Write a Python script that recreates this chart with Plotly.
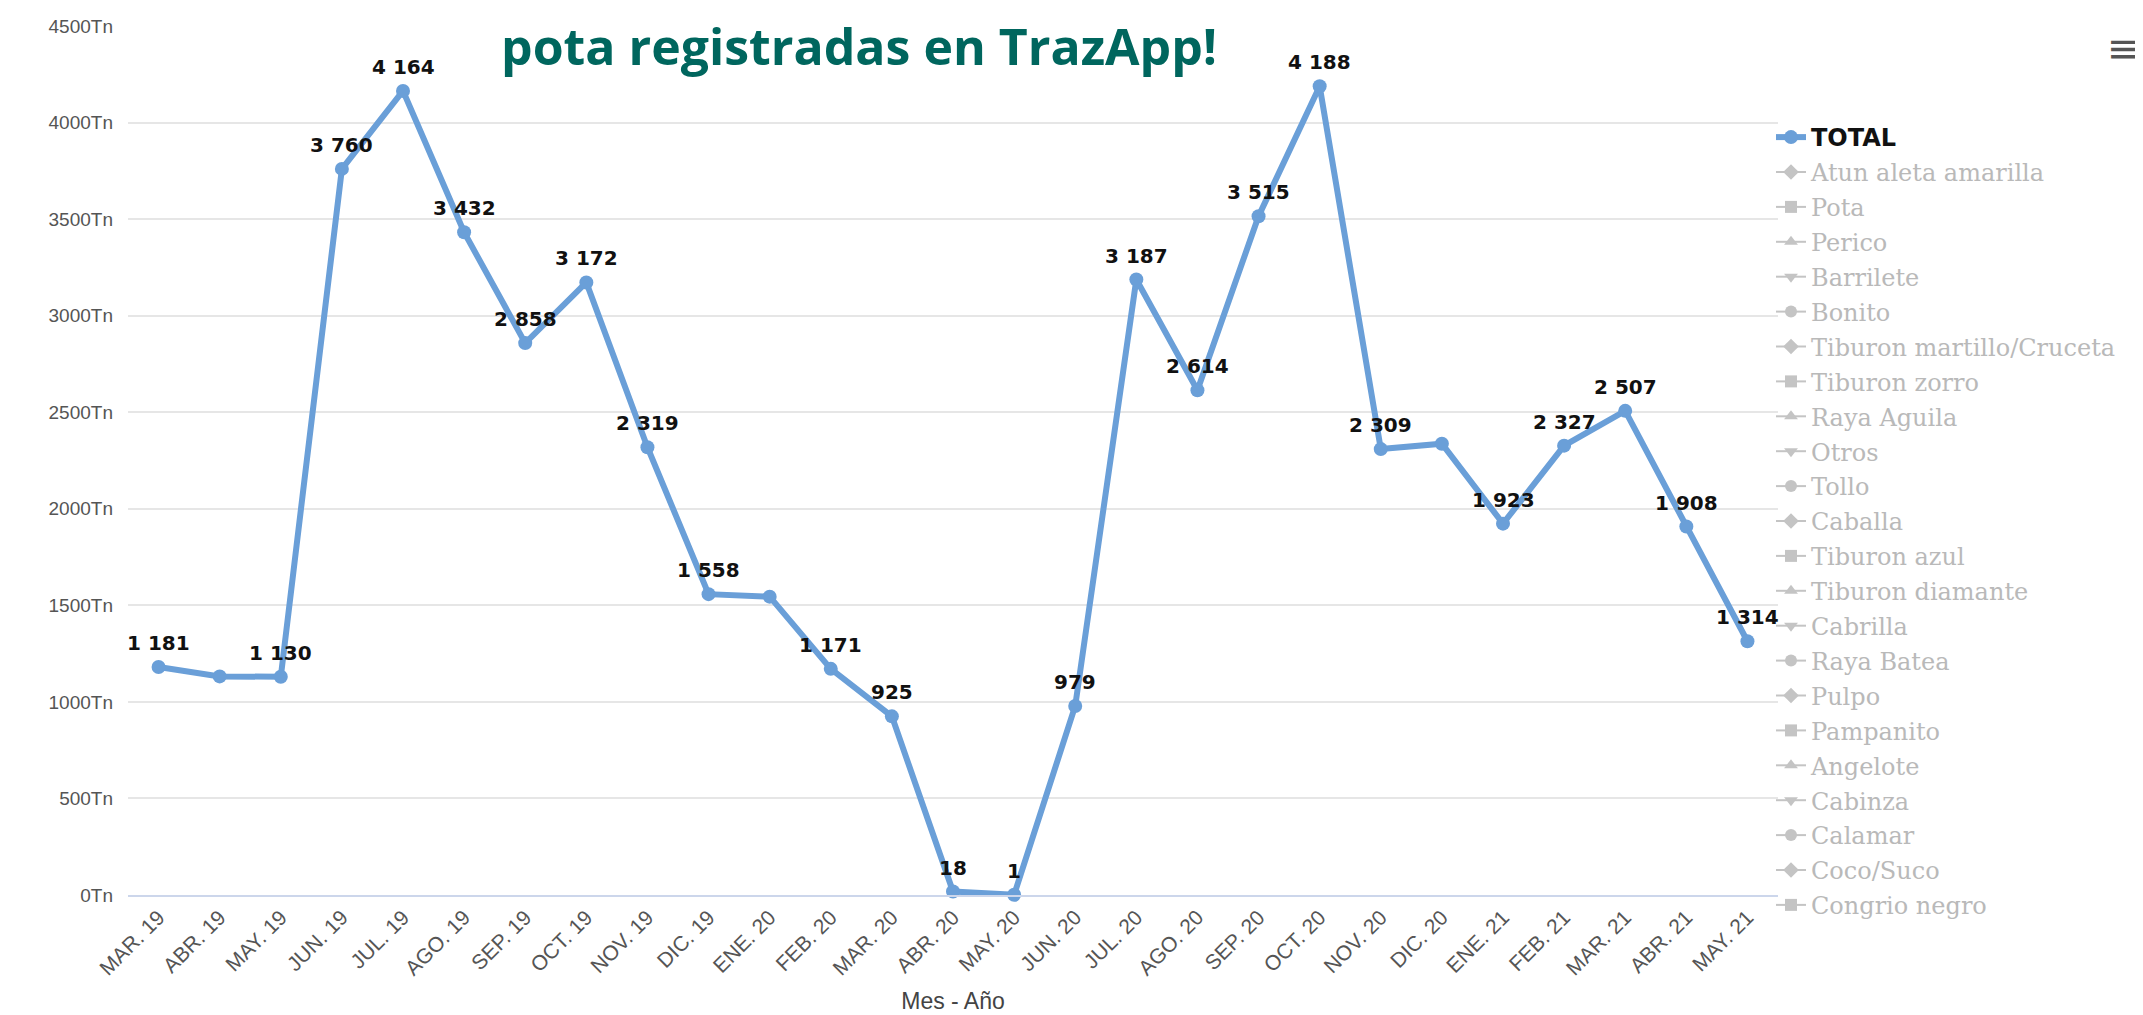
import plotly.graph_objects as go

# ---------------- data ----------------
months = ["MAR. 19", "ABR. 19", "MAY. 19", "JUN. 19", "JUL. 19", "AGO. 19", "SEP. 19",
          "OCT. 19", "NOV. 19", "DIC. 19", "ENE. 20", "FEB. 20", "MAR. 20", "ABR. 20",
          "MAY. 20", "JUN. 20", "JUL. 20", "AGO. 20", "SEP. 20", "OCT. 20", "NOV. 20",
          "DIC. 20", "ENE. 21", "FEB. 21", "MAR. 21", "ABR. 21", "MAY. 21"]
total_tn = [1181, 1132, 1130, 3760, 4164, 3432, 2858, 3172, 2319, 1558, 1545, 1171, 925, 18,
            1, 979, 3187, 2614, 3515, 4188, 2309, 2337, 1923, 2327, 2507, 1908, 1314]
label_visible = [True, False, True, True, True, True, True, True, True, True, False, True,
                 True, True, True, True, True, True, True, True, True, False, True, True,
                 True, True, True]
hidden_species = ["Atun aleta amarilla", "Pota", "Perico", "Barrilete", "Bonito",
                  "Tiburon martillo/Cruceta", "Tiburon zorro", "Raya Aguila", "Otros", "Tollo",
                  "Caballa", "Tiburon azul", "Tiburon diamante", "Cabrilla", "Raya Batea",
                  "Pulpo", "Pampanito", "Angelote", "Cabinza", "Calamar", "Coco/Suco",
                  "Congrio negro"]
y_ticks = [0, 500, 1000, 1500, 2000, 2500, 3000, 3500, 4000, 4500]
y_tick_labels = [f"{v}Tn" for v in y_ticks]

title_text = "pota registradas en TrazApp!"
x_title = "Mes - Año"

# ---------------- style ----------------
W, H = 2143, 1015
M_L, M_R, M_T, M_B = 120, 373, 18, 128
LINE_COLOR = "#6a9fd8"
HIDDEN_COLOR = "#c4c4c4"
AXIS_FONT = "Liberation Sans Narrow, Liberation Sans, Arial, sans-serif"
symbols = ["circle", "diamond", "square", "triangle-up", "triangle-down"]

fig = go.Figure()

fig.add_trace(go.Scatter(
    x=months, y=total_tn, mode="lines+markers",
    name="<span style='font-family:DejaVu Sans, Verdana, sans-serif'><b>TOTAL</b></span>",
    line=dict(color=LINE_COLOR, width=6),
    marker=dict(color=LINE_COLOR, size=14, symbol="circle"),
    cliponaxis=False, legendgroup="g0",
))

for i, sp in enumerate(hidden_species):
    fig.add_trace(go.Scatter(
        x=[None], y=[None], mode="lines+markers",
        name=f"<span style='color:#b9b9b9'>{sp}</span>",
        line=dict(color=HIDDEN_COLOR, width=2),
        marker=dict(color=HIDDEN_COLOR, size=12, symbol=symbols[(i + 1) % 5]),
        legendgroup=f"g{i+1}",
    ))

# data labels
for m, v, show in zip(months, total_tn, label_visible):
    if not show:
        continue
    fig.add_annotation(
        x=m, y=v, text=f"{v:,}".replace(",", " "), showarrow=False,
        yshift=24, font=dict(family="DejaVu Sans, Verdana, sans-serif", size=20,
                             color="#111111", weight="bold"),
    )

plot_w = W - M_L - M_R
plot_h = H - M_T - M_B


def px_to_paper_x(px):
    return (px - M_L) / plot_w


def px_to_paper_y(py):
    return (H - M_B - py) / plot_h


# title (partially visible header)
fig.add_annotation(
    xref="paper", yref="paper", x=px_to_paper_x(492), y=px_to_paper_y(38),
    xanchor="left", yanchor="middle", showarrow=False, borderpad=0,
    text=f"<b>{title_text}</b>", bgcolor="white",
    font=dict(family="Open Sans, Lato, sans-serif", size=50, color="#00665e"),
)

# hamburger menu icon
fig.add_annotation(
    xref="paper", yref="paper", x=px_to_paper_x(2116), y=px_to_paper_y(40),
    xanchor="center", yanchor="middle", showarrow=False,
    text="≡", font=dict(family="DejaVu Sans", size=40, color="#555555"),
)

fig.update_layout(
    width=W, height=H,
    margin=dict(l=M_L, r=M_R, t=M_T, b=M_B, autoexpand=False),
    paper_bgcolor="white", plot_bgcolor="white",
    showlegend=True,
    legend=dict(
        x=px_to_paper_x(1763), y=px_to_paper_y(107), xanchor="left", yanchor="top",
        font=dict(family="DejaVu Serif, serif", size=24, color="#111111"),
        traceorder="grouped", tracegroupgap=0.7, bgcolor="rgba(0,0,0,0)",
        itemclick=False, itemdoubleclick=False,
    ),
    xaxis=dict(
        type="category", range=[-0.5, len(months) - 0.5],
        tickangle=-45, showgrid=False, showline=True, linecolor="#ccd6eb", linewidth=1.5,
        ticks="", tickfont=dict(family=AXIS_FONT, size=21, color="#555555"),
        title=dict(text=x_title, standoff=14,
                   font=dict(family=AXIS_FONT, size=23, color="#444444")),
        zeroline=False,
    ),
    yaxis=dict(
        range=[0, 4500], tickmode="array", tickvals=y_ticks, ticktext=y_tick_labels,
        showgrid=True, gridcolor="#e6e6e6", gridwidth=1.5, zeroline=False,
        showline=False, ticks="", ticklabelstandoff=14,
        tickfont=dict(family=AXIS_FONT, size=19, color="#555555"),
    ),
)

fig.write_html("out.html")
